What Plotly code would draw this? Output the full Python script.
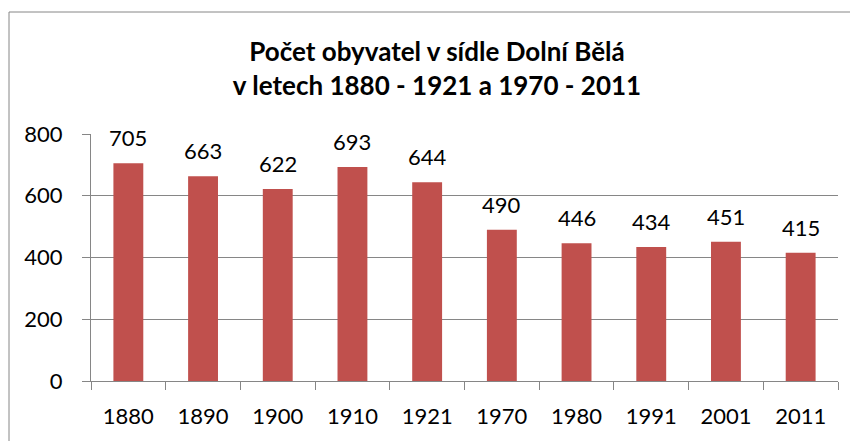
import plotly.graph_objects as go

years = ["1880", "1890", "1900", "1910", "1921", "1970", "1980", "1991", "2001", "2011"]
population = [705, 663, 622, 693, 644, 490, 446, 434, 451, 415]
y_ticks = [0, 200, 400, 600, 800]
title_lines = ["Počet obyvatel v sídle Dolní Bělá", "v letech 1880 - 1921 a 1970 - 2011"]

W, H = 858, 441
OFF = 8  # default page body margin
L, R, T, B = 91 - OFF, 20 + OFF, 134 - OFF, 60 + OFF
pw, ph = W - L - R, H - T - B

fig = go.Figure()
fig.add_trace(go.Bar(
    x=years, y=population,
    marker=dict(color="#C0504D", line=dict(width=0)),
    width=0.4,
))

for i, v in enumerate(population):
    fig.add_annotation(x=i, y=v, text=str(v), showarrow=False,
                       yanchor="bottom", yshift=10,
                       font=dict(family="Lato", size=22, color="black"))

gray = "#868686"
bx = (9 - OFF - L) / pw
by = (H - B - (12 - OFF)) / ph
fig.add_shape(type="line", xref="paper", yref="paper", x0=bx, x1=bx, y0=-0.5, y1=by,
              line=dict(color=gray, width=1))
fig.add_shape(type="line", xref="paper", yref="paper", x0=bx, x1=1.2, y0=by, y1=by,
              line=dict(color=gray, width=1))

fig.update_layout(
    width=W, height=H,
    margin=dict(l=L, r=R, t=T, b=B, autoexpand=False),
    paper_bgcolor="white", plot_bgcolor="white",
    showlegend=False,
    title=dict(text="<b>" + title_lines[0] + "<br>" + title_lines[1] + "</b>",
               x=(437 - OFF) / W, xref="container", xanchor="center",
               y=(H - 53) / H, yref="container", yanchor="middle",
               font=dict(family="Lato", size=26, color="black")),
    font=dict(family="Lato", size=22, color="black"),
)
fig.update_xaxes(type="category", range=[-0.5, len(years) - 0.5], autorange=False,
                 automargin=False,
                 tickson="boundaries", ticks="outside", ticklen=8, tickangle=0,
                 tickcolor=gray, showline=True, linecolor=gray, linewidth=1,
                 showgrid=False, tickfont=dict(size=22), ticklabelstandoff=16)
fig.update_yaxes(range=[0, 800], tickvals=y_ticks, ticks="outside", ticklen=8,
                 automargin=False,
                 tickcolor=gray, showline=True, linecolor=gray, linewidth=1,
                 showgrid=True, gridcolor=gray, gridwidth=1, zeroline=False,
                 tickfont=dict(size=22), ticklabelstandoff=15)

fig.write_html("out.html")
